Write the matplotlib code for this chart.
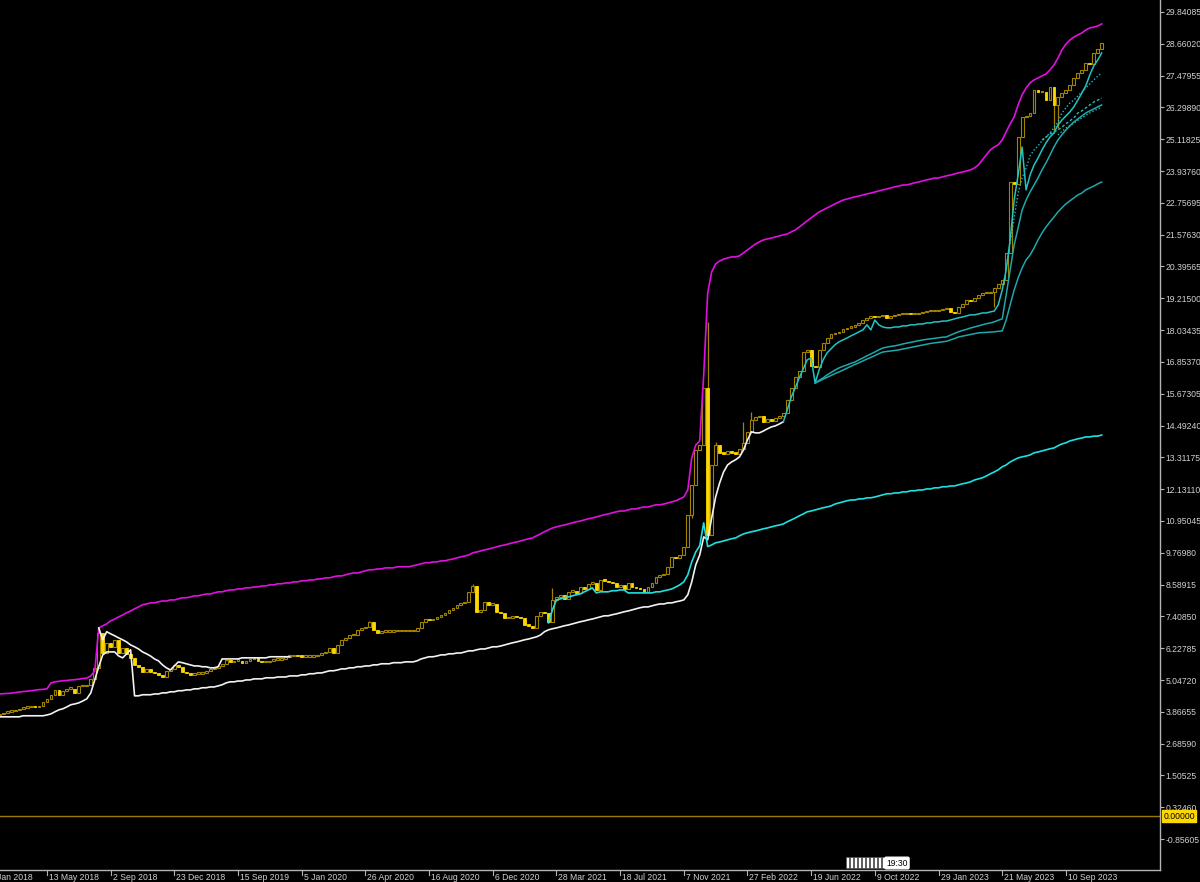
import matplotlib
matplotlib.use('Agg')
import matplotlib.pyplot as plt
import matplotlib.transforms as mtransforms
from matplotlib.patches import Rectangle

plt.rcParams['font.family'] = ['Liberation Sans Narrow', 'Liberation Sans', 'DejaVu Sans']

# weekly closes, bar 0 .. 277
close = [3.79, 3.83, 3.87, 3.90, 3.94, 3.98, 4.02, 4.05, 4.09, 4.05,
         4.09, 4.24, 4.35, 4.50, 4.68, 4.50, 4.65, 4.72, 4.72, 4.57,
         4.83, 4.83, 4.87, 5.09, 5.50, 6.80, 6.05, 6.42, 6.28, 6.54,
         6.05, 6.24, 6.02, 5.87, 5.61, 5.54, 5.35, 5.46, 5.35, 5.31,
         5.24, 5.16, 5.39, 5.46, 5.61, 5.54, 5.35, 5.31, 5.24, 5.28,
         5.28, 5.31, 5.39, 5.46, 5.50, 5.57, 5.65, 5.80, 5.72, 5.76,
         5.76, 5.69, 5.76, 5.83, 5.87, 5.76, 5.72, 5.72, 5.76, 5.80,
         5.80, 5.83, 5.91, 5.94, 5.98, 5.94, 5.91, 5.91, 5.91, 5.94,
         5.98, 6.05, 6.09, 6.24, 6.05, 6.35, 6.54, 6.61, 6.72, 6.72,
         6.91, 6.98, 7.02, 7.21, 6.91, 6.80, 6.84, 6.84, 6.84, 6.87,
         6.87, 6.87, 6.87, 6.87, 6.87, 6.98, 7.21, 7.31, 7.28, 7.31,
         7.39, 7.47, 7.54, 7.65, 7.73, 7.84, 7.91, 7.95, 8.32, 8.54,
         7.58, 7.65, 7.95, 7.84, 7.87, 7.58, 7.54, 7.35, 7.35, 7.43,
         7.39, 7.35, 7.09, 7.06, 6.98, 7.43, 7.58, 7.54, 7.21, 8.02,
         8.13, 8.21, 8.06, 8.32, 8.36, 8.28, 8.50, 8.43, 8.62, 8.65,
         8.39, 8.76, 8.73, 8.69, 8.65, 8.50, 8.58, 8.43, 8.65, 8.50,
         8.46, 8.43, 8.32, 8.50, 8.65, 8.88, 8.95, 8.99, 9.25, 9.62,
         9.58, 9.69, 9.99, 11.18, 12.29, 13.59, 13.77, 15.90, 10.43, 13.03,
         13.77, 13.48, 13.45, 13.55, 13.48, 13.45, 13.63, 13.85, 14.26, 14.70,
         14.81, 14.85, 14.63, 14.74, 14.66, 14.78, 14.85, 14.96, 15.44, 15.89,
         16.30, 16.52, 17.23, 17.30, 16.70, 16.67, 17.30, 17.56, 17.74, 17.89,
         17.93, 17.97, 18.08, 18.12, 18.15, 18.23, 18.30, 18.41, 18.49, 18.56,
         18.52, 18.56, 18.60, 18.49, 18.56, 18.60, 18.63, 18.63, 18.67, 18.63,
         18.63, 18.67, 18.71, 18.74, 18.74, 18.74, 18.78, 18.82, 18.86, 18.71,
         18.67, 18.89, 19.01, 19.15, 19.12, 19.23, 19.34, 19.41, 19.41, 19.45,
         19.60, 19.75, 19.90, 20.90, 23.53, 23.46, 25.20, 25.94, 25.98, 26.09,
         26.95, 26.87, 26.87, 26.57, 27.06, 26.40, 26.69, 26.83, 26.95, 27.13,
         27.39, 27.58, 27.69, 27.95, 27.91, 28.32, 28.47, 28.69]
first_open = 3.75

# wicks that stick out of the bodies
highs = {25: 6.98, 93: 7.25, 119: 8.62, 139: 8.47, 178: 18.34, 180: 13.88,
         187: 14.63, 189: 15.00}
lows = {174: 11.06, 179: 10.50, 180: 13.18, 250: 18.89, 265: 25.35, 266: 25.54}

magenta = [4.53, 4.54, 4.55, 4.56, 4.58, 4.60, 4.62, 4.63, 4.65, 4.67,
           4.69, 4.70, 4.72, 4.94, 4.98, 5.00, 5.02, 5.03, 5.05, 5.06,
           5.08, 5.10, 5.12, 5.20, 5.38, 6.98, 7.06, 7.13, 7.24, 7.31,
           7.39, 7.46, 7.54, 7.61, 7.69, 7.76, 7.84, 7.87, 7.91, 7.91,
           7.95, 7.98, 7.98, 8.02, 8.02, 8.06, 8.10, 8.10, 8.13, 8.17,
           8.17, 8.21, 8.24, 8.24, 8.28, 8.32, 8.32, 8.36, 8.39, 8.39,
           8.43, 8.43, 8.47, 8.47, 8.50, 8.50, 8.54, 8.54, 8.58, 8.58,
           8.62, 8.62, 8.65, 8.65, 8.69, 8.69, 8.73, 8.73, 8.76, 8.76,
           8.80, 8.80, 8.84, 8.84, 8.88, 8.91, 8.91, 8.95, 8.99, 9.02,
           9.02, 9.06, 9.10, 9.14, 9.14, 9.17, 9.17, 9.21, 9.21, 9.21,
           9.25, 9.25, 9.25, 9.25, 9.29, 9.32, 9.36, 9.40, 9.40, 9.43,
           9.43, 9.47, 9.47, 9.51, 9.54, 9.58, 9.62, 9.65, 9.69, 9.77,
           9.80, 9.84, 9.88, 9.91, 9.95, 9.99, 10.03, 10.06, 10.10, 10.14,
           10.17, 10.21, 10.25, 10.29, 10.32, 10.40, 10.47, 10.55, 10.62, 10.69,
           10.73, 10.77, 10.80, 10.84, 10.88, 10.92, 10.95, 10.99, 11.03, 11.06,
           11.10, 11.14, 11.18, 11.21, 11.25, 11.29, 11.32, 11.32, 11.36, 11.40,
           11.40, 11.44, 11.47, 11.47, 11.51, 11.55, 11.55, 11.58, 11.62, 11.66,
           11.70, 11.77, 11.84, 12.10, 13.29, 13.77, 13.92, 16.37, 19.41, 20.19,
           20.49, 20.60, 20.67, 20.71, 20.75, 20.75, 20.79, 20.90, 21.01, 21.12,
           21.23, 21.31, 21.38, 21.42, 21.45, 21.49, 21.53, 21.57, 21.60, 21.68,
           21.75, 21.86, 21.97, 22.09, 22.20, 22.31, 22.42, 22.49, 22.57, 22.64,
           22.72, 22.79, 22.86, 22.90, 22.94, 22.98, 23.01, 23.05, 23.09, 23.12,
           23.16, 23.20, 23.24, 23.27, 23.31, 23.35, 23.38, 23.42, 23.42, 23.46,
           23.50, 23.53, 23.57, 23.61, 23.64, 23.68, 23.68, 23.72, 23.76, 23.79,
           23.83, 23.87, 23.90, 23.94, 23.98, 24.05, 24.16, 24.35, 24.53, 24.72,
           24.83, 24.91, 25.09, 25.39, 25.69, 25.94, 26.39, 26.76, 27.02, 27.21,
           27.32, 27.39, 27.47, 27.54, 27.69, 27.87, 28.13, 28.43, 28.65, 28.80,
           28.91, 28.99, 29.06, 29.17, 29.25, 29.28, 29.32, 29.40]

# lower white stop, bars 0 .. 197
white_lo = [3.68, 3.68, 3.68, 3.68, 3.68, 3.68, 3.72, 3.72, 3.72, 3.72,
            3.72, 3.72, 3.75, 3.79, 3.87, 3.94, 3.98, 4.05, 4.13, 4.16,
            4.20, 4.27, 4.35, 4.57, 5.06, 5.54, 5.98, 6.09, 6.09, 6.09,
            5.94, 5.87, 6.02, 6.17, 4.46, 4.46, 4.50, 4.50, 4.50, 4.53,
            4.53, 4.57, 4.57, 4.61, 4.61, 4.65, 4.65, 4.68, 4.68, 4.72,
            4.72, 4.76, 4.76, 4.79, 4.79, 4.83, 4.87, 4.94, 4.98, 4.98,
            5.01, 5.01, 5.05, 5.05, 5.09, 5.09, 5.09, 5.13, 5.13, 5.13,
            5.16, 5.16, 5.16, 5.20, 5.20, 5.20, 5.24, 5.24, 5.28, 5.28,
            5.31, 5.31, 5.35, 5.39, 5.39, 5.42, 5.46, 5.46, 5.50, 5.50,
            5.54, 5.54, 5.57, 5.57, 5.61, 5.61, 5.65, 5.65, 5.65, 5.69,
            5.69, 5.69, 5.72, 5.72, 5.72, 5.76, 5.83, 5.87, 5.91, 5.91,
            5.94, 5.98, 5.98, 6.02, 6.02, 6.05, 6.05, 6.09, 6.13, 6.13,
            6.17, 6.20, 6.20, 6.24, 6.28, 6.28, 6.31, 6.35, 6.39, 6.43,
            6.46, 6.50, 6.54, 6.57, 6.61, 6.65, 6.72, 6.84, 6.91, 6.95,
            6.98, 7.02, 7.06, 7.09, 7.13, 7.17, 7.21, 7.24, 7.28, 7.31,
            7.35, 7.39, 7.43, 7.43, 7.47, 7.50, 7.54, 7.58, 7.61, 7.65,
            7.69, 7.73, 7.76, 7.76, 7.80, 7.84, 7.87, 7.87, 7.91, 7.91,
            7.95, 7.98, 8.02, 8.21, 8.69, 9.32, 9.69, 10.36, 10.25, 11.06,
            11.84, 12.36, 12.77, 13.03, 13.14, 13.22, 13.33, 13.59, 13.96, 14.26,
            14.22, 14.22, 14.29, 14.37, 14.44, 14.48, 14.55, 14.63]

# upper white stop, bars 25 .. 73
white_hi = [6.98, 6.54, 6.84, 6.76, 6.69, 6.61, 6.54, 6.46, 6.35, 6.28,
            6.20, 6.09, 6.02, 5.94, 5.83, 5.76, 5.61, 5.50, 5.42, 5.57,
            5.72, 5.69, 5.65, 5.61, 5.57, 5.57, 5.54, 5.54, 5.50, 5.50,
            5.54, 5.83, 5.83, 5.83, 5.83, 5.83, 5.87, 5.87, 5.87, 5.87,
            5.87, 5.87, 5.87, 5.91, 5.91, 5.91, 5.91, 5.91, 5.91]

# cyan lower band, bars 138 .. 277
cyan_lo = [7.17, 7.65,
           8.02, 8.06, 8.10, 8.13, 8.17, 8.21, 8.24, 8.32, 8.39, 8.47,
           8.28, 8.32, 8.32, 8.32, 8.36, 8.36, 8.39, 8.39, 8.28, 8.28,
           8.28, 8.28, 8.28, 8.28, 8.28, 8.32, 8.32, 8.36, 8.39, 8.43,
           8.50, 8.58, 8.69, 8.95, 9.43, 9.80, 10.03, 10.88, 10.00, 10.06,
           10.14, 10.17, 10.21, 10.25, 10.29, 10.32, 10.40, 10.47, 10.51, 10.55,
           10.58, 10.62, 10.66, 10.69, 10.73, 10.77, 10.80, 10.84, 10.92, 10.99,
           11.06, 11.14, 11.21, 11.29, 11.32, 11.36, 11.40, 11.44, 11.47, 11.51,
           11.58, 11.62, 11.66, 11.70, 11.73, 11.73, 11.77, 11.77, 11.81, 11.81,
           11.84, 11.88, 11.92, 11.96, 11.96, 11.99, 11.99, 12.03, 12.03, 12.07,
           12.07, 12.10, 12.10, 12.14, 12.14, 12.18, 12.18, 12.22, 12.22, 12.25,
           12.25, 12.29, 12.33, 12.36, 12.40, 12.47, 12.51, 12.55, 12.62, 12.70,
           12.77, 12.85, 12.96, 13.03, 13.14, 13.22, 13.29, 13.33, 13.36, 13.40,
           13.48, 13.51, 13.55, 13.59, 13.63, 13.66, 13.74, 13.81, 13.85, 13.92,
           13.96, 14.00, 14.03, 14.07, 14.07, 14.10, 14.10, 14.14]

# cyan trailing stop under the candles, bars 197 .. 277
cyan_tr = [14.63, 15.07, 15.55,
           15.89, 16.26, 16.59, 16.93, 17.00, 16.07, 16.56, 16.93, 17.19, 17.34,
           17.49, 17.60, 17.67, 17.74, 17.82, 17.89, 17.97, 18.04, 18.23, 18.04,
           18.41, 18.23, 18.15, 18.12, 18.12, 18.15, 18.15, 18.19, 18.19, 18.23,
           18.23, 18.26, 18.26, 18.30, 18.30, 18.34, 18.34, 18.37, 18.37, 18.41,
           18.45, 18.49, 18.52, 18.56, 18.60, 18.60, 18.63, 18.67, 18.67, 18.71,
           18.74, 18.97, 19.52, 20.27, 21.38, 22.86, 23.79, 24.83, 23.24, 23.79,
           24.16, 24.42, 24.72, 24.98, 25.20, 25.35, 25.65, 25.83, 25.98, 26.13,
           26.32, 26.57, 26.83, 27.10, 27.50, 27.84, 28.06, 28.32]

# two slower cyan stops, bars 205 .. 277
mid1 = [16.07, 16.17, 16.26, 16.37, 16.46,
        16.55, 16.63, 16.69, 16.74, 16.80, 16.85, 16.93, 17.00, 17.08, 17.15,
        17.22, 17.30, 17.37, 17.40, 17.43, 17.45, 17.48, 17.52, 17.55, 17.58,
        17.61, 17.64, 17.67, 17.69, 17.71, 17.73, 17.75, 17.77, 17.78, 17.85,
        17.91, 17.97, 18.02, 18.06, 18.11, 18.15, 18.19, 18.23, 18.27, 18.30,
        18.34, 18.40, 18.45, 19.34, 20.27, 21.19, 21.83, 22.49, 22.86, 23.16,
        23.42, 23.68, 23.98, 24.24, 24.53, 24.83, 25.09, 25.28, 25.46, 25.61,
        25.76, 25.87, 25.98, 26.09, 26.17, 26.24, 26.32, 26.39]
mid2 = [16.07, 16.14, 16.21, 16.28, 16.35,
        16.42, 16.48, 16.55, 16.62, 16.69, 16.76, 16.82, 16.89, 16.96, 17.02,
        17.09, 17.16, 17.22, 17.24, 17.26, 17.28, 17.30, 17.33, 17.36, 17.39,
        17.42, 17.45, 17.48, 17.51, 17.54, 17.56, 17.58, 17.60, 17.62, 17.67,
        17.72, 17.78, 17.81, 17.84, 17.87, 17.90, 17.93, 17.94, 17.95, 17.96,
        17.97, 17.99, 18.00, 18.41, 18.97, 19.52, 19.97, 20.34, 20.64, 20.82,
        21.08, 21.38, 21.64, 21.86, 22.05, 22.23, 22.42, 22.57, 22.72, 22.83,
        22.94, 23.05, 23.12, 23.24, 23.31, 23.38, 23.46, 23.53]

# dotted / dashed stops in the last rally
dot1 = [20.34, 21.27, 22.20, 23.12, 23.68, 24.05, 24.50, 24.72, 24.87, 25.06,
        25.20, 25.35, 25.54, 25.76, 26.09, 26.28, 26.46, 26.57, 26.72, 26.87,
        27.02, 27.17, 27.32, 27.46, 27.58]            # bars 253 .. 277
dash1 = [25.09, 25.20, 25.31, 25.39, 25.46, 25.57, 25.69, 25.80, 25.91, 26.09,
         26.17, 26.28, 26.39, 26.50, 26.57, 26.65]     # bars 262 .. 277
dot2 = [25.28, 25.40, 25.53, 25.62, 25.72, 25.82, 25.91, 26.00, 26.09, 26.17,
        26.24, 26.31]                                  # bars 266 .. 277

date_bars = [-4, 12, 28, 44, 60, 76, 92, 108, 124, 140, 156, 172, 188, 204, 220, 236, 252, 268]
date_labels = ['21 Jan 2018', '13 May 2018', '2 Sep 2018', '23 Dec 2018', '15 Sep 2019',
               '5 Jan 2020', '26 Apr 2020', '16 Aug 2020', '6 Dec 2020', '28 Mar 2021',
               '18 Jul 2021', '7 Nov 2021', '27 Feb 2022', '19 Jun 2022', '9 Oct 2022',
               '29 Jan 2023', '21 May 2023', '10 Sep 2023']
price_ticks = [29.84085, 28.66020, 27.47955, 26.29890, 25.11825, 23.93760, 22.75695,
               21.57630, 20.39565, 19.21500, 18.03435, 16.85370, 15.67305, 14.49240,
               13.31175, 12.13110, 10.95045, 9.76980, 8.58915, 7.40850, 6.22785,
               5.04720, 3.86655, 2.68590, 1.50525, 0.32460, -0.85605]

BG = 'black'
AXC = '#b4b4b4'
TXT = '#d0d0d0'
WICK = '#a08400'
BEAR = '#ffd700'
FS = 6.2

fig = plt.figure(figsize=(12, 8.82), dpi=100, facecolor=BG)
ax = fig.add_axes([0, 12 / 882, 1160 / 1200, 870 / 882], facecolor=BG)
ax.set_xlim(0.19, 291.65)
ax.set_ylim(-2.004, 30.286)

# zero level
ax.axhline(0, color='#9a7a08', lw=1.0, zorder=1)

# candles
opens = [first_open] + close[:-1]
for i, (o, c) in enumerate(zip(opens, close)):
    h = max(o, c, highs.get(i, c))
    l = min(o, c, lows.get(i, c))
    ax.vlines(i, l, h, color=WICK, lw=0.9, zorder=3)
    bot = min(o, c)
    hgt = max(abs(c - o), 0.05)
    if c >= o:
        ax.add_patch(Rectangle((i - 0.36, bot), 0.72, hgt, facecolor='black',
                               edgecolor=WICK, lw=0.8, zorder=4))
    else:
        ax.add_patch(Rectangle((i - 0.36, bot), 0.72, hgt, facecolor=BEAR,
                               edgecolor=BEAR, lw=0.6, zorder=4))

# indicator lines
ax.plot(range(0, 278), magenta, color='#e010e0', lw=1.2, zorder=5)
ax.plot(range(0, 198), white_lo, color='#f2f2f2', lw=1.2, zorder=5)
ax.plot(range(25, 74), white_hi, color='#f2f2f2', lw=1.2, zorder=5)
ax.plot(range(138, 278), cyan_lo, color='#1ee0e0', lw=1.2, zorder=5)
ax.plot(range(197, 278), cyan_tr, color='#22c4c4', lw=1.1, zorder=5)
ax.plot(range(205, 278), mid1, color='#1fa8ac', lw=1.1, zorder=5)
ax.plot(range(205, 278), mid2, color='#1fa8ac', lw=1.1, zorder=5)
ax.plot(range(253, 278), dot1, color='#22b8b8', lw=1.0, ls=(0, (1, 1.5)), zorder=5)
ax.plot(range(262, 278), dash1, color='#22b8b8', lw=1.0, ls=(0, (2, 1.5)), zorder=5)
ax.plot(range(266, 278), dot2, color='#22b8b8', lw=1.0, ls=(0, (1, 1.5)), zorder=5)

# axes frame like the terminal
for s in ['top', 'left']:
    ax.spines[s].set_visible(False)
for s in ['right', 'bottom']:
    ax.spines[s].set_color(AXC)
    ax.spines[s].set_linewidth(1.0)

ax.yaxis.tick_right()
ax.set_yticks(price_ticks)
ax.set_yticklabels(['%.5f' % v for v in price_ticks])
ax.tick_params(axis='y', colors=AXC, labelcolor=TXT, labelsize=FS, length=3, pad=1, width=0.8)

ax.set_xticks([])
trans = mtransforms.blended_transform_factory(ax.transData, ax.transAxes)
shift = mtransforms.ScaledTranslation(2 / 100, 0, fig.dpi_scale_trans)
for b, lab in zip(date_bars, date_labels):
    ax.plot([b, b], [0, -0.006], color=AXC, lw=0.8, transform=trans, clip_on=False)
    ax.text(b, -0.003, lab, transform=trans + shift, ha='left', va='top',
            color=TXT, fontsize=FS, clip_on=False)

# zero price tag
ytr = mtransforms.blended_transform_factory(ax.transAxes, ax.transData)
ax.text(1.003, 0, '0.00000', transform=ytr, ha='left', va='center', fontsize=FS,
        color='black', bbox=dict(facecolor='#ffd700', edgecolor='#ffd700', pad=0.8))

# little time marker on the time scale
for k in range(11):
    fig.patches.append(Rectangle(((846 + k * 4) / 1200, 1 - 868 / 882), 3 / 1200, 11 / 882,
                                 facecolor='white', edgecolor='#555555', lw=0.5,
                                 transform=fig.transFigure, figure=fig))
fig.text(897 / 1200, 1 - 863 / 882, '19:30', ha='center', va='center', fontsize=FS,
         color='black', bbox=dict(boxstyle='round,pad=0.15', facecolor='white', edgecolor='white'))

fig.savefig('out.png', dpi=100, facecolor=BG)
